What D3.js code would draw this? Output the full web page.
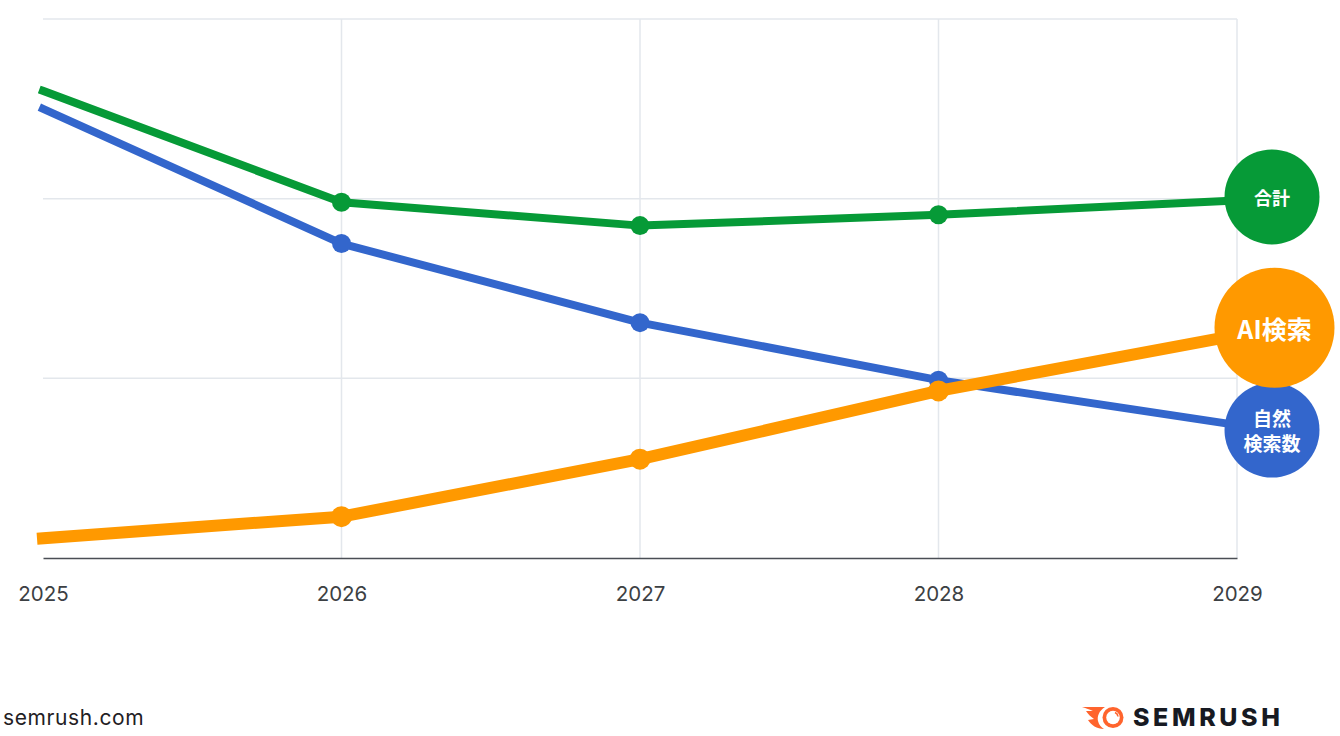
<!DOCTYPE html>
<html>
<head>
<meta charset="utf-8">
<script src="https://cdn.jsdelivr.net/npm/d3@7/dist/d3.min.js"></script>
<style>
  html, body { margin: 0; padding: 0; background: #ffffff; }
  svg { display: block; }
</style>
</head>
<body>
<svg id="chart" width="1340" height="736"></svg>
<script>
// ---- data ----
const years = [2025, 2026, 2027, 2028, 2029];
const totalSearch = [2.60, 1.98, 1.85, 1.91, 1.99];     // 合計
const organicSearch = [2.50, 1.75, 1.31, 0.99, 0.74];   // 自然検索数
const aiSearch = [0.11, 0.23, 0.55, 0.93, 1.24];        // AI検索
const gridValues = [1, 2, 3];
const seriesNames = ["合計", "自然検索数", "AI検索"];

// ---- setup ----
const svg = d3.select("#chart");
const x = d3.scaleLinear().domain([2025, 2029]).range([43, 1237]);
const y = d3.scaleLinear().domain([0, 3]).range([558, 19]);

const font = "'Inter', 'Roboto', 'Noto Sans', sans-serif";
const cjkFont = "'Noto Sans CJK JP', 'Noto Sans', sans-serif";

// gridlines
svg.append("g").selectAll("line").data(gridValues).join("line")
  .attr("x1", x(2025)).attr("x2", x(2029))
  .attr("y1", d => y(d)).attr("y2", d => y(d))
  .attr("stroke", "#e3e7ec").attr("stroke-width", 1.5);
svg.append("g").selectAll("line").data(years.slice(1)).join("line")
  .attr("x1", d => x(d)).attr("x2", d => x(d))
  .attr("y1", y(3)).attr("y2", y(0))
  .attr("stroke", "#e3e7ec").attr("stroke-width", 1.5);

// x axis
const xAxis = d3.axisBottom(x).tickValues(years).tickFormat(d3.format("d"))
  .tickSize(0).tickPadding(28);
const gx = svg.append("g").attr("transform", `translate(0,${y(0)})`).call(xAxis);
gx.select(".domain").attr("stroke", "#4a4e55").attr("stroke-width", 1.6);
gx.selectAll("text").attr("font-family", font).attr("font-size", 20.5)
  .attr("fill", "#3c4043");

// series
const series = [
  { name: seriesNames[0], values: totalSearch, color: "#069a37", width: 8, r: 9.5, labelR: 47.5, dy: -3.5, fs: 18, lines: ["合計"] },
  { name: seriesNames[1], values: organicSearch, color: "#3366cc", width: 8, r: 9.5, labelR: 47.5, dy: 5, fs: 19, lines: ["自然", "検索数"] },
  { name: seriesNames[2], values: aiSearch, color: "#ff9900", width: 12, r: 10.5, labelR: 60, dy: -7.5, fs: 25, lines: ["AI検索"] }
];

const line = d3.line().x((d, i) => x(years[i])).y(d => y(d));

[0, 1, 2].forEach(k => {
  const s = series[k];
  svg.append("path").datum(s.values)
    .attr("d", line)
    .attr("fill", "none")
    .attr("stroke", s.color)
    .attr("stroke-width", s.width)
    .attr("stroke-linejoin", "round")
    .attr("stroke-linecap", "square");
  svg.append("g").selectAll("circle").data(s.values.slice(1, 4)).join("circle")
    .attr("cx", (d, i) => x(years[i + 1]))
    .attr("cy", d => y(d))
    .attr("r", s.r)
    .attr("fill", s.color);
});

// end label bubbles (blue under orange)
[0, 1, 2].forEach(k => {
  const s = series[k];
  const last = s.values[s.values.length - 1];
  const cx = x(2029) + 35 + (k === 2 ? 2.5 : 0);
  const cy = y(last) + s.dy;
  const g = svg.append("g");
  g.append("circle").attr("cx", cx).attr("cy", cy).attr("r", s.labelR).attr("fill", s.color);
  const lh = s.fs * 1.3;
  const startY = cy - (s.lines.length - 1) * lh / 2;
  s.lines.forEach((t, i) => {
    g.append("text")
      .attr("x", cx).attr("y", startY + i * lh)
      .attr("text-anchor", "middle")
      .attr("dominant-baseline", "central")
      .attr("font-family", cjkFont)
      .attr("font-weight", 700)
      .attr("font-size", s.fs)
      .attr("fill", "#ffffff")
      .text(t);
  });
});

// footer
svg.append("text").attr("x", 3).attr("y", 725)
  .attr("font-family", font).attr("font-size", 21).attr("letter-spacing", 0.6)
  .attr("fill", "#1f2124")
  .text("semrush.com");

// SEMRUSH logo
const logo = svg.append("g");
logo.append("path")
  .attr("d", "M1082,707 L1105,707 C1099,711 1097,716 1098,721 C1099,725 1101,727 1104,729 C1097,729 1091,725 1088,720 L1094,719 C1091,717 1088,714 1086,711 L1093,711 C1089,709 1085,708 1082,707 Z")
  .attr("fill", "#ff642d");
logo.append("circle").attr("cx", 1113).attr("cy", 717.5).attr("r", 10.5).attr("fill", "#ff642d");
logo.append("circle").attr("cx", 1113).attr("cy", 717.5).attr("r", 6.8).attr("fill", "#ffffff");
logo.append("path").attr("d", "M1115,712.5 A5,5 0 0 1 1118,716.5").attr("fill", "none")
  .attr("stroke", "#ff642d").attr("stroke-width", 1.6);
logo.append("text").attr("x", 1133).attr("y", 726)
  .attr("font-family", "'Inter', 'Roboto', sans-serif").attr("font-weight", 800)
  .attr("font-size", 25).attr("letter-spacing", 3.6).attr("fill", "#171a22")
  .text("SEMRUSH");
</script>
</body>
</html>
